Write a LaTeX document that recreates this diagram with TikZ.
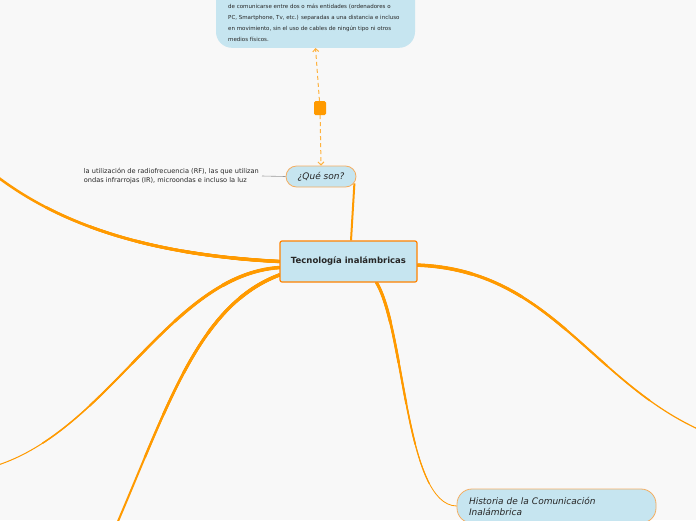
\documentclass[tikz,border=0pt]{standalone}
\usepackage{fontspec}
\setmainfont{DejaVu Sans}
\usetikzlibrary{arrows.meta,backgrounds}

\definecolor{paper}{HTML}{F8F8F8}
\definecolor{mapblue}{HTML}{C6E5F0}
\definecolor{mapline}{HTML}{FF9A00}
\definecolor{mapedge}{HTML}{F4AE62}
\definecolor{softline}{HTML}{FFB23E}

% tapered branch: #1 rough length, #2 first width, #3 last width, #4 path
\newcommand{\branch}[4]{%
  \foreach \k in {0,...,5}{%
    \pgfmathsetmacro\bw{#2-(#2-#3)*\k/5}%
    \pgfmathsetmacro\bl{ifthenelse(\k==5,3000,#1*(\k+1)/6)}%
    \draw[mapline, line cap=round, line width=\bw pt, dash pattern=on \bl pt off 3000pt] #4;
  }}

\begin{document}
\begin{tikzpicture}[x=1pt,y=-1pt,
  core/.style={draw=mapline!85!red, line width=1.2pt, fill=mapblue, rounded corners=2pt,
    minimum width=137, minimum height=41, text=black!85,
    font=\fontsize{8.5}{10}\selectfont\bfseries},
  topic/.style={draw=mapedge, line width=0.8pt, fill=mapblue, text=black!85,
    font=\fontsize{9}{11}\selectfont\itshape},
  defbox/.style={fill=mapblue, rounded corners=16pt, minimum width=199, minimum height=100},
  deftext/.style={align=left, inner sep=0pt, text=black!85, font=\fontsize{5.5}{11}\selectfont},
  note/.style={align=left, inner sep=3pt, text=black!85, font=\fontsize{6.6}{8.5}\selectfont},
  hub/.style={fill=mapline, minimum width=12, minimum height=14, inner sep=0pt, rounded corners=1.5pt},
  link/.style={softline, line width=1pt, dash pattern=on 4pt off 3pt, -{Straight Barb[length=3pt,width=6pt]}}]
\useasboundingbox (0,0) rectangle (696,520);

% nodes
\node[defbox, anchor=south] (def) at (315.5,48) {};
\node[deftext, anchor=north west] (deftxt) at (228,4) {de comunicarse entre dos o más entidades (ordenadores o\\
PC, Smartphone, Tv, etc.) separadas a una distancia e incluso\\
en movimiento, sin el uso de cables de ningún tipo ni otros\\
medios físicos.};
\node[hub] (hub) at (320,108) {};
\node[topic, rounded corners=10.5pt, minimum width=70, minimum height=21] (que) at (321,176.5) {¿Qué son?};
\node[note, anchor=east] (lbl) at (262,176) {la utilización de radiofrecuencia (RF), las que utilizan\\
ondas infrarrojas (IR), microondas e incluso la luz};
\node[core] (core) at (348.5,261.5) {Tecnología inalámbricas};
\node[topic, rounded corners=15pt, align=left, text width=175, inner xsep=12pt, minimum height=34] (hist) at (556.5,506) {Historia de la Comunicación\\Inalámbrica};

% free ends at the border
\coordinate (w1) at (-5,175);
\coordinate (w2) at (-5,466);
\coordinate (s1) at (116,526);
\coordinate (e1) at (700,430);

\begin{pgfonlayer}{background}
\fill[paper] (0,0) rectangle (696,520);
\branch{290}{3.4}{2.5}{(core.west) .. controls (150,255) and (60,225) .. (w1)}
\branch{360}{3.5}{1}{(core.185) .. controls (170,275) and (110,430) .. (w2)}
\branch{280}{3.5}{2}{(core.191) .. controls (200,305) and (170,400) .. (s1)}
\branch{330}{3.5}{1.2}{(core.-3) .. controls (550,270) and (590,380) .. (e1)}
\branch{250}{3}{0.8}{(core.-37) .. controls (405,330) and (405,505) .. (hist.west)}
\draw[mapline, line width=2pt] ([xshift=2.5pt]core.north) -- ([xshift=-2pt,yshift=4pt]que.south east);
\draw[gray!80, line width=0.6pt] (lbl.east) -- (que.west);
\draw[link] (hub) -- (def.south);
\draw[link] (hub) -- (que.north);
\end{pgfonlayer}
\end{tikzpicture}
\end{document}
